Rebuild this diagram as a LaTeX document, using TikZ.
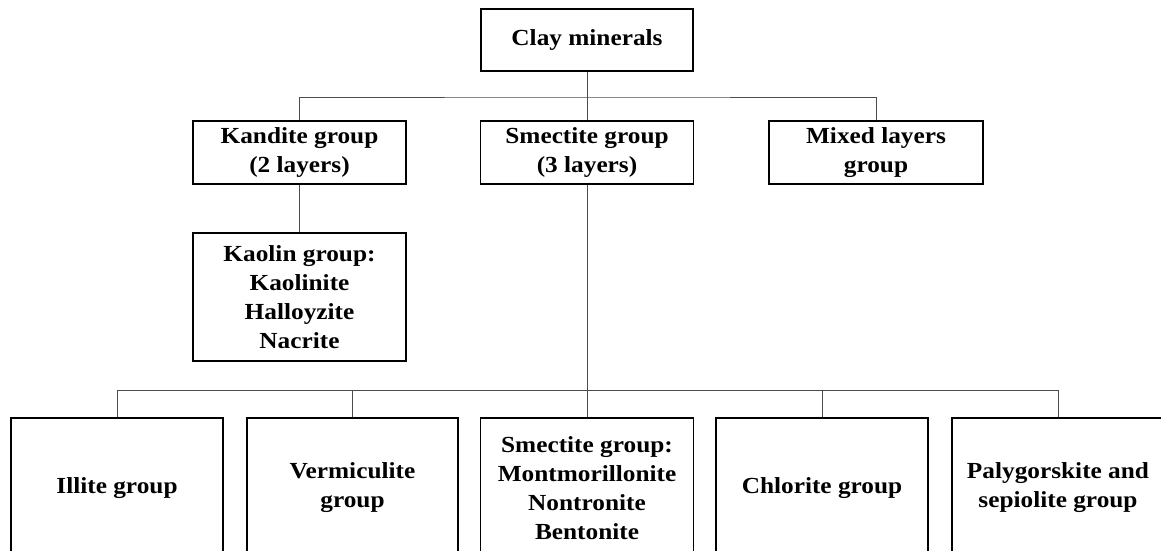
\documentclass[tikz,border=0pt]{standalone}
\usepackage{fontspec}
\setmainfont[FakeStretch=1.1]{Liberation Serif}
\begin{document}
\begin{tikzpicture}[x=1pt,y=-1pt,
  box/.style={draw=black,line width=1.6pt,fill=white,inner sep=0pt,
    align=center,font=\fontsize{23}{29}\selectfont\bfseries},
  link/.style={draw=black!70,line width=1pt}]
\useasboundingbox (0,0) rectangle (1161,551);
\clip (0,0) rectangle (1161,551);

% top level
\node[box,minimum width=212pt,minimum height=62pt] (clay) at (587,40) {Clay minerals};

% second level
\node[box,minimum width=213pt,minimum height=63pt] (kandite) at (299.5,152.5) {Kandite group\\(2 layers)};
\node[box,minimum width=213pt,minimum height=63pt] (smect) at (587,152.5) {Smectite group\\(3 layers)};
\node[box,minimum width=214pt,minimum height=63pt] (mixed) at (876,152.5) {Mixed layers\\group};

% kaolin subgroup
\node[box,minimum width=213pt,minimum height=128pt] (kaolin) at (299.5,297) {Kaolin group:\\Kaolinite\\Halloyzite\\Nacrite};

% bottom level
\node[box,minimum width=212pt,minimum height=140pt] (illite) at (117,488) {Illite group};
\node[box,minimum width=211pt,minimum height=140pt] (verm) at (352.5,488) {Vermiculite\\group};
\node[box,minimum width=213pt,minimum height=140pt] (smect2) at (587,488) {Smectite group:\\Montmorillonite\\Nontronite\\Bentonite};
\node[box,minimum width=212pt,minimum height=140pt] (chlor) at (822,488) {Chlorite group};
\node[box,minimum width=212pt,minimum height=140pt] (paly) at (1058,488) {Palygorskite and\\sepiolite group};

% bus lines
\coordinate (bus1) at (587,97);
\coordinate (bus2) at (587,390);

\draw[link] (clay.south) -- (smect.north);
\draw[link] (kandite.north) |- (bus1) -| (mixed.north);
\draw[link] (kandite.south) -- (kaolin.north);
\draw[link] (smect.south) -- (smect2.north);
\draw[link] (illite.north) |- (bus2) -| (paly.north);
\draw[link] (verm.north) |- (bus2);
\draw[link] (chlor.north) |- (bus2);
\end{tikzpicture}
\end{document}
